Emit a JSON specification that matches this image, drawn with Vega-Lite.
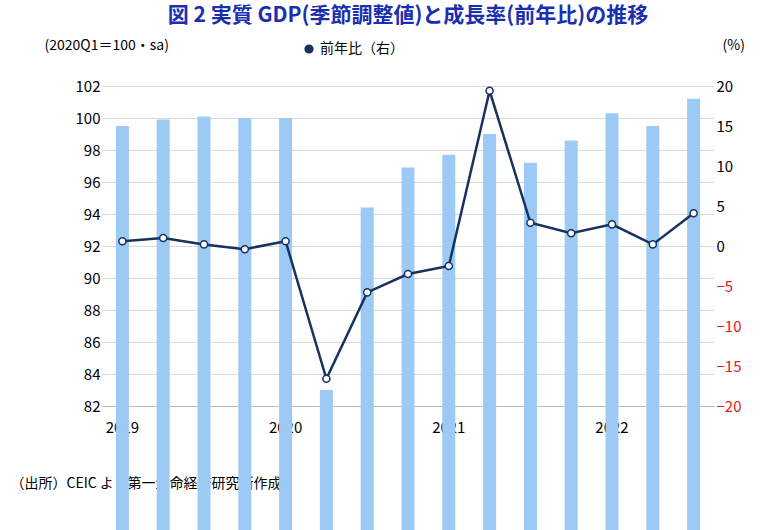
{
  "$schema": "https://vega.github.io/schema/vega-lite/v6.json",
  "width": 612,
  "height": 320,
  "padding": {"left": 10, "top": 5, "right": 10, "bottom": 5},
  "background": "white",
  "config": {"font": "Noto Sans CJK JP", "view": {"stroke": null}},
  "title": {"text": "図 2  実質 GDP(季節調整値)と成長率(前年比)の推移", "color": "#1a2fb0", "fontSize": 21, "fontWeight": "bold", "anchor": "middle", "offset": 12},
  "data": {"values": [
    {"q": "2019Q1", "gdp": 99.5, "yoy": 0.6},
    {"q": "2019Q2", "gdp": 99.9, "yoy": 1.0},
    {"q": "2019Q3", "gdp": 100.1, "yoy": 0.2},
    {"q": "2019Q4", "gdp": 100.0, "yoy": -0.4},
    {"q": "2020Q1", "gdp": 100.0, "yoy": 0.6},
    {"q": "2020Q2", "gdp": 83.0, "yoy": -16.6},
    {"q": "2020Q3", "gdp": 94.4, "yoy": -5.8},
    {"q": "2020Q4", "gdp": 96.9, "yoy": -3.5},
    {"q": "2021Q1", "gdp": 97.7, "yoy": -2.5},
    {"q": "2021Q2", "gdp": 99.0, "yoy": 19.4},
    {"q": "2021Q3", "gdp": 97.2, "yoy": 2.9},
    {"q": "2021Q4", "gdp": 98.6, "yoy": 1.6},
    {"q": "2022Q1", "gdp": 100.3, "yoy": 2.7},
    {"q": "2022Q2", "gdp": 99.5, "yoy": 0.2},
    {"q": "2022Q3", "gdp": 101.2, "yoy": 4.1}
  ]},
  "encoding": {
    "x": {"field": "q", "type": "ordinal", "scale": {"paddingInner": 0.1, "paddingOuter": 0.05},
      "axis": {"labelAngle": 0, "labelFontSize": 15, "labelColor": "#000", "ticks": false, "domainColor": "#bbb",
        "labelExpr": "indexof(datum.value,'Q1')>=0 ? slice(datum.value,0,4) : ''",
        "labelPadding": 14,
        "title": "（出所）CEIC より第一生命経済研究所作成", "titleFontSize": 14, "titleFontWeight": "normal",
        "titleAnchor": "start", "titleX": -92, "titleY": 70, "titleAlign": "left"}}
  },
  "layer": [
    {
      "mark": {"type": "bar", "color": "#9dcaf5", "size": 13},
      "encoding": {
        "y": {"field": "gdp", "type": "quantitative", "scale": {"domain": [82, 102], "zero": false, "nice": false},
          "axis": {"values": [82,84,86,88,90,92,94,96,98,100,102], "labelFontSize": 15, "labelColor": "#000", "ticks": false, "domain": false, "gridColor": "#d9d9d9",
            "title": "(2020Q1＝100・sa)", "titleAngle": 0, "titleFontSize": 14, "titleFontWeight": "normal", "titleAlign": "left", "titleX": -58, "titleY": -34}}
      }
    },
    {
      "mark": {"type": "line", "color": "#17325f", "strokeWidth": 2.5, "point": {"filled": true, "fill": "white", "stroke": "#17325f", "strokeWidth": 1.5, "size": 50}},
      "encoding": {
        "y": {"field": "yoy", "type": "quantitative", "scale": {"domain": [-20, 20], "nice": false},
          "axis": {"orient": "right", "values": [-20,-15,-10,-5,0,5,10,15,20], "grid": false, "ticks": false, "domain": false, "labelFontSize": 15,
            "labelColor": {"condition": {"test": "datum.value < 0", "value": "#e02020"}, "value": "#000"},
            "title": "(%)", "titleAngle": 0, "titleFontSize": 14, "titleFontWeight": "normal", "titleAlign": "left", "titleX": 8, "titleY": -34}},
        "color": {"datum": "前年比（右）", "type": "nominal", "scale": {"range": ["#17325f"]},
          "legend": {"title": null, "orient": "none", "legendX": 200, "legendY": -44, "labelFontSize": 14, "symbolType": "circle", "symbolFillColor": "white", "symbolStrokeWidth": 1.5, "symbolSize": 60}}
      }
    }
  ],
  "resolve": {"scale": {"y": "independent"}}
}
